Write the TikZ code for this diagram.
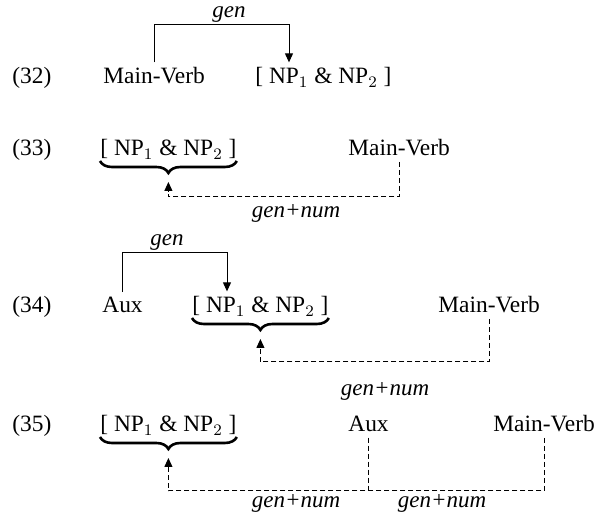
\documentclass[tikz,border=0pt]{standalone}
\usepackage{fontspec}
\setmainfont{Liberation Serif}
\usetikzlibrary{arrows.meta}
\usetikzlibrary{positioning}
\usetikzlibrary{decorations.pathreplacing}
\tikzstyle{word}=[inner xsep=0pt,inner ysep=2.5pt,anchor=base west,
                  font=\fontsize{11.7}{14}\selectfont]
\tikzstyle{lbl}=[inner sep=1pt,font=\fontsize{11.5}{14}\selectfont\itshape]
\tikzstyle{agr}=[line width=0.5pt,-{Triangle[length=4.5pt,width=4pt]}]
\tikzstyle{dagr}=[agr,dash pattern=on 2.5pt off 1.5pt]
\tikzstyle{dline}=[line width=0.5pt,dash pattern=on 2.5pt off 1.5pt]
\tikzstyle{brc}=[line width=1.3pt,decorate,
                 decoration={brace,mirror,amplitude=6pt,raise=2.5pt}]
\newcommand{\conj}{[ NP$_1$ \& NP$_2$ ]}

\begin{document}
\begin{tikzpicture}[x=0.5pt,y=-0.5pt]
\useasboundingbox (0,0) rectangle (606,518);
% (32)
\node[word] (n32) at (12,84) {(32)};
\node[word] (mv32) at (103,84) {Main-Verb};
\node[word] (np32) at (255,84) {\conj};
\coordinate (top32) at (0,25);
\draw[agr] (mv32.north) -- (mv32.north |- top32) -| ([xshift=17pt]np32.north west);
\node[lbl,anchor=south] (g32) at (229,25) {gen};
% (33)
\node[word] (n33) at (12,156) {(33)};
\node[word] (np33) at (100,156) {\conj};
\node[word] (mv33) at (348,156) {Main-Verb};
\draw[brc] (np33.base west) -- (np33.base east);
\coordinate (bot33) at (0,197);
\draw[dagr] (mv33.south) |- (np33.base |- bot33) -- ([yshift=-13pt]np33.base);
\node[lbl,anchor=base] (gn33) at (296,218) {gen+num};
% (34)
\node[word] (n34) at (12,313) {(34)};
\node[word] (aux34) at (102,313) {Aux};
\node[word] (np34) at (192,313) {\conj};
\node[word] (mv34) at (438,313) {Main-Verb};
\draw[brc] (np34.base west) -- (np34.base east);
\coordinate (top34) at (0,253);
\draw[agr] (aux34.north) -- (aux34.north |- top34) -| ([xshift=17.5pt]np34.north west);
\node[lbl,anchor=south] (g34) at (167,253) {gen};
\coordinate (bot34) at (0,362);
\draw[dagr] (mv34.south) |- (np34.base |- bot34) -- ([yshift=-13pt]np34.base);
\node[lbl,anchor=base] (gn34) at (385,396) {gen+num};
% (35)
\node[word] (n35) at (12,432) {(35)};
\node[word] (np35) at (100,432) {\conj};
\node[word] (aux35) at (348,432) {Aux};
\node[word] (mv35) at (493,432) {Main-Verb};
\draw[brc] (np35.base west) -- (np35.base east);
\coordinate (bot35) at (0,491);
\draw[dline] (aux35.south) -- (aux35.south |- bot35);
\draw[dagr] (mv35.south) |- (np35.base |- bot35) -- ([yshift=-13pt]np35.base);
\node[lbl,anchor=base] (gl35) at (296,508) {gen+num};
\node[lbl,anchor=base] (gr35) at (442,508) {gen+num};
\end{tikzpicture}
\end{document}
